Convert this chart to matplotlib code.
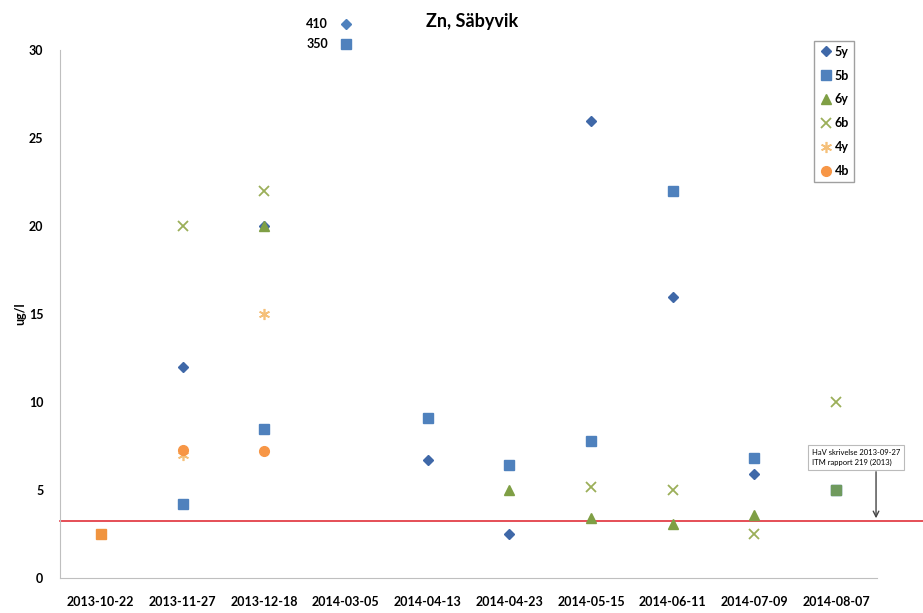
import numpy as np
import matplotlib.pyplot as plt

dates = ["2013-10-22", "2013-11-27", "2013-12-18", "2014-03-05", "2014-04-13",
         "2014-04-23", "2014-05-15", "2014-06-11", "2014-07-09", "2014-08-07"]
nan = np.nan
s5y = [nan, 12, 20, nan, 6.7, 2.5, 26, 16, 5.9, nan]
s5b = [nan, 4.2, 8.5, nan, 9.1, 6.4, 7.8, 22, 6.8, 5.0]
s6y = [nan, nan, 20, nan, nan, 5.0, 3.4, 3.1, 3.6, nan]
s6b = [nan, 20, 22, nan, nan, nan, 5.2, 5.0, 2.5, 10]
s4y = [nan, 7.0, 15, nan, nan, nan, nan, nan, nan, nan]
s4b = [nan, 7.3, 7.2, nan, nan, nan, nan, nan, nan, nan]
first_sample = [2.5, nan, nan, nan, nan, nan, nan, nan, nan, nan]   # orange square
mixed_sample = [nan, nan, nan, nan, nan, nan, nan, nan, nan, 5.0]   # green square
off_scale = [410, 350]      # 5y, 5b on 2014-03-05
limit = 3.24

plt.rcParams['font.family'] = ['Lato', 'DejaVu Sans']

fig = plt.figure(figsize=(9.23, 6.13), dpi=100)
ax = fig.add_axes([0.065, 0.057, 0.885, 0.861])
x = np.arange(len(dates))

ax.plot(x, s5y, marker='D', color='#3F68A8', ms=5, label='5y', ls='none')
ax.plot(x, s5b, marker='s', color='#4F81BD', ms=7, label='5b', ls='none')
ax.plot(x, s6y, marker='^', color='#7F9F45', ms=7, label='6y', ls='none')
ax.plot(x, s6b, marker='x', color='#9BAF59', ms=7, mew=1.3, label='6b', ls='none')
ax.plot(x, s4y, marker=(6, 2, 0), color='#F5C07A', ms=8, mew=1.2, label='4y', ls='none')
ax.plot(x, s4b, marker='o', color='#F79646', ms=7, label='4b', ls='none')
ax.plot(x, first_sample, marker='s', color='#F0943F', ms=7, ls='none')
ax.plot(x, mixed_sample, marker='s', color='#6F9A5E', ms=7, ls='none')

# off-scale values drawn above the plot area
ax.plot(3, 31.5, marker='D', color='#4F81BD', ms=5, clip_on=False)
ax.plot(3, 30.35, marker='s', color='#4F81BD', ms=7, clip_on=False)
ax.text(2.78, 31.5, str(off_scale[0]), ha='right', va='center', fontsize=9, fontweight='bold')
ax.text(2.78, 30.35, str(off_scale[1]), ha='right', va='center', fontsize=9, fontweight='bold')

ax.axhline(limit, xmin=0, xmax=1.06, color='#E0303A', lw=1.2, clip_on=False, zorder=1)

ax.annotate("", xy=(9.49, limit), xytext=(9.49, 6.2), annotation_clip=False,
            arrowprops=dict(arrowstyle='->', color='#444444', lw=1))
ax.text(8.7, 6.85, "HaV skrivelse 2013-09-27\nITM rapport 219 (2013)", fontsize=5.5,
        ha='left', va='center', clip_on=False, linespacing=1.5,
        bbox=dict(boxstyle='square,pad=0.5', fc='white', ec='#BBBBBB', lw=0.8))

ax.set_xlim(-0.5, 9.5)
ax.set_ylim(0, 30)
ax.set_xticks(x)
ax.set_xticklabels(dates, fontsize=9, fontweight='bold')
ax.set_yticks([0, 5, 10, 15, 20, 25, 30])
ax.tick_params(axis='y', labelsize=9, length=0, pad=12)
ax.tick_params(axis='x', length=0, pad=13)
for lab in ax.get_yticklabels():
    lab.set_fontweight('bold')
ax.spines['top'].set_visible(False)
ax.spines['right'].set_visible(False)
ax.spines['left'].set_color('#BFBFBF')
ax.spines['bottom'].set_color('#BFBFBF')
ax.set_ylabel("ug/l", fontsize=9, fontweight='bold', labelpad=2)

fig.text(0.512, 0.965, "Zn, Säbyvik", ha='center', va='center', fontsize=13, fontweight='bold')

leg = ax.legend(loc='upper right', bbox_to_anchor=(0.98, 1.03), frameon=True, fancybox=False,
                edgecolor='#888888', fontsize=9, handletextpad=0.1, borderpad=0.4,
                labelspacing=0.95, handlelength=1.2)
for t in leg.get_texts():
    t.set_fontweight('bold')

fig.savefig("out.png", dpi=100)
